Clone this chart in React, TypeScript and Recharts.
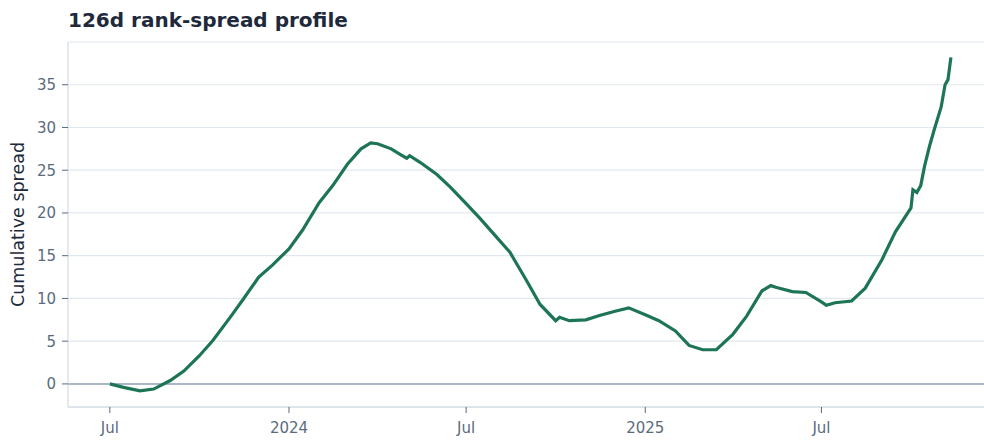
import { LineChart, Line, XAxis, YAxis, CartesianGrid, ReferenceLine } from "recharts";

// semi-monthly readings of the cumulative spread
const dates = [
  "2023-07-01", "2023-07-15", "2023-08-01", "2023-08-15", "2023-09-01", "2023-09-15",
  "2023-10-01", "2023-10-15", "2023-11-01", "2023-11-15", "2023-12-01", "2023-12-15",
  "2024-01-01", "2024-01-15", "2024-02-01", "2024-02-15", "2024-03-01", "2024-03-15",
  "2024-03-25", "2024-04-01", "2024-04-15", "2024-04-25", "2024-05-01", "2024-05-04",
  "2024-05-15", "2024-06-01", "2024-06-15", "2024-07-01", "2024-07-15", "2024-08-01",
  "2024-08-15", "2024-09-01", "2024-09-15", "2024-10-01", "2024-10-05", "2024-10-15",
  "2024-11-01", "2024-11-15", "2024-12-01", "2024-12-15", "2025-01-01", "2025-01-15",
  "2025-02-01", "2025-02-15", "2025-03-01", "2025-03-15", "2025-04-01", "2025-04-15",
  "2025-05-01", "2025-05-10", "2025-05-15", "2025-06-01", "2025-06-15", "2025-07-01",
  "2025-07-06", "2025-07-15", "2025-08-01", "2025-08-15", "2025-09-01", "2025-09-15",
  "2025-10-01", "2025-10-03", "2025-10-07", "2025-10-11", "2025-10-15", "2025-10-20",
  "2025-10-25", "2025-11-01", "2025-11-05", "2025-11-08", "2025-11-11",
];

const spread = [
  0.0, -0.4, -0.8, -0.6, 0.4, 1.5,
  3.3, 5.1, 7.7, 9.9, 12.5, 13.9,
  15.8, 18.0, 21.2, 23.2, 25.7, 27.5,
  28.2, 28.1, 27.5, 26.8, 26.4, 26.7,
  25.9, 24.5, 23.0, 21.1, 19.4, 17.2,
  15.4, 12.1, 9.3, 7.4, 7.8, 7.4,
  7.5, 8.0, 8.5, 8.9, 8.1, 7.4,
  6.2, 4.5, 4.0, 4.0, 5.8, 7.9,
  10.9, 11.5, 11.3, 10.8, 10.7, 9.6,
  9.2, 9.5, 9.7, 11.2, 14.5, 17.8,
  20.6, 22.7, 22.4, 23.2, 25.5, 27.8,
  29.8, 32.4, 35.0, 35.6, 38.2,
];

const xTickDates = ["2023-07-01", "2024-01-01", "2024-07-01", "2025-01-01", "2025-07-01"];
const xTickLabels = ["Jul", "2024", "Jul", "2025", "Jul"];
const yTicks = [0, 5, 10, 15, 20, 25, 30, 35];

const ts = (s: string) => Date.parse(s + "T00:00:00Z");

const data = dates.map((d, i) => ({ t: ts(d), v: spread[i] }));
const xTicks = xTickDates.map(ts);

const FONT = "'DejaVu Sans', sans-serif";
const TICK = { fill: "#5b6b7d", fontSize: 15, fontFamily: FONT };

export default function App() {
  return (
    <div style={{ position: "fixed", left: 0, top: 0, width: 984, height: 442, background: "#fff" }}>
      <div
        style={{
          position: "absolute",
          left: 68,
          top: 7,
          fontFamily: FONT,
          fontWeight: "bold",
          fontSize: 20,
          lineHeight: "26px",
          color: "#1e293b",
        }}
      >
        126d rank-spread profile
      </div>
      <LineChart width={984} height={442} data={data} margin={{ top: 42, right: 0, bottom: 0, left: 8 }}>
        <CartesianGrid vertical={false} stroke="#e2e8f0" strokeWidth={1.2} />
        <XAxis
          dataKey="t"
          type="number"
          scale="time"
          domain={[ts("2023-05-19"), ts("2025-12-15")]}
          ticks={xTicks}
          tickFormatter={(v) => xTickLabels[xTicks.indexOf(v)] ?? ""}
          tick={TICK}
          tickSize={6}
          tickMargin={9}
          height={35}
          stroke="#cbd5e1"
          tickLine={{ stroke: "#5b6b7d" }}
          allowDataOverflow
        />
        <YAxis
          type="number"
          domain={[-2.7, 40]}
          ticks={yTicks}
          tick={TICK}
          tickSize={6}
          tickMargin={6}
          width={60}
          stroke="#cbd5e1"
          tickLine={{ stroke: "#5b6b7d" }}
          allowDataOverflow
          label={{
            value: "Cumulative spread",
            angle: -90,
            position: "insideLeft",
            offset: 10,
            style: { textAnchor: "middle", fill: "#1e293b", fontSize: 17.5, fontFamily: FONT },
          }}
        />
        <ReferenceLine y={0} stroke="#94a3b8" strokeWidth={1.5} />
        <Line
          type="linear"
          dataKey="v"
          stroke="#1e7556"
          strokeWidth={3.2}
          dot={false}
          isAnimationActive={false}
        />
      </LineChart>
    </div>
  );
}
